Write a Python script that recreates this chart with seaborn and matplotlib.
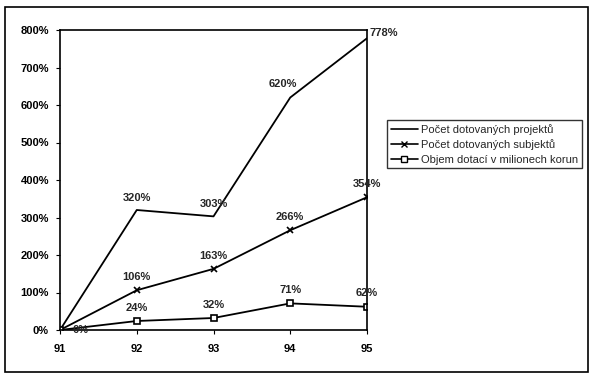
import numpy as np
import pandas as pd
import matplotlib
matplotlib.use("Agg")
import matplotlib.pyplot as plt
import seaborn as sns
from matplotlib.patches import Rectangle
from matplotlib.lines import Line2D

# --- data ---
years = [91, 92, 93, 94, 95]
projekty = [0, 320, 303, 620, 778]
subjekty = [0, 106, 163, 266, 354]
objem = [0, 24, 32, 71, 62]

names = ["Počet dotovaných projektů",
         "Počet dotovaných subjektů",
         "Objem dotací v milionech korun"]

sns.set_style("white")
plt.rcParams["font.family"] = ["Liberation Sans", "DejaVu Sans"]
plt.rcParams["font.weight"] = "bold"

fig = plt.figure(figsize=(5.94, 3.80), dpi=100)
ax = fig.add_axes([60 / 594, 1 - 330 / 380, 307 / 594, 300 / 380])

sns.lineplot(x=years, y=projekty, color="black", linewidth=1.3, ax=ax)
sns.lineplot(x=years, y=subjekty, color="black", linewidth=1.3, marker="x",
             markersize=5, markeredgecolor="black", markeredgewidth=1.2, ax=ax)
sns.lineplot(x=years, y=objem, color="black", linewidth=1.3, marker="s",
             markersize=5, markerfacecolor="white", markeredgecolor="black",
             markeredgewidth=1.2, ax=ax)

ax.set_xlim(91, 95)
ax.set_ylim(0, 800)
ax.set_xticks(years)
ax.set_xticklabels([str(y) for y in years])
ax.set_yticks(range(0, 801, 100))
ax.set_yticklabels([f"{v}%" for v in range(0, 801, 100)])
ax.set_xlabel("")
ax.set_ylabel("")
ax.tick_params(axis="both", labelsize=8, length=3, direction="out",
               colors="black", pad=5)
ax.tick_params(axis="x", bottom=True, pad=7)
ax.tick_params(axis="y", left=True)
for s in ax.spines.values():
    s.set_color("black")
    s.set_linewidth(1.2)

fs = 8
# labels for projects (the 0% at 91 coincides with the y tick label)
for x, v in zip(years, projekty):
    if x == 91:
        continue
    elif x == 95:
        ax.annotate(f"{v}%", (x, v), xytext=(2, 4), textcoords="offset points",
                    ha="left", va="center", fontsize=fs, fontweight="bold",
                    annotation_clip=False)
    elif x == 94:
        ax.annotate(f"{v}%", (x, v), xytext=(-5, 6), textcoords="offset points",
                    ha="center", va="bottom", fontsize=fs, fontweight="bold")
    else:
        ax.annotate(f"{v}%", (x, v), xytext=(0, 5), textcoords="offset points",
                    ha="center", va="bottom", fontsize=fs, fontweight="bold")
for x, v in zip(years, subjekty):
    if x == 91:
        ax.annotate("0%", (x, v), xytext=(9, 0), textcoords="offset points",
                    ha="left", va="center", fontsize=fs, fontweight="bold")
    else:
        ax.annotate(f"{v}%", (x, v), xytext=(0, 6), textcoords="offset points",
                    ha="center", va="bottom", fontsize=fs, fontweight="bold")
for x, v in zip(years, objem):
    if x == 91:
        continue
    ax.annotate(f"{v}%", (x, v), xytext=(0, 6), textcoords="offset points",
                ha="center", va="bottom", fontsize=fs, fontweight="bold")

# legend
handles = [
    Line2D([], [], color="black", lw=1.2),
    Line2D([], [], color="black", lw=1.2, marker="x", markersize=5),
    Line2D([], [], color="black", lw=1.2, marker="s", markersize=5,
           markerfacecolor="white"),
]
leg = fig.legend(handles, names, loc="upper left",
                 bbox_to_anchor=(387 / 594, 1 - 120 / 380),
                 frameon=True, fancybox=False, edgecolor="black",
                 fontsize=8, handlelength=2.4, handletextpad=0.3,
                 borderpad=0.35, labelspacing=0.4, borderaxespad=0)
leg.get_frame().set_linewidth(1.0)
for t in leg.get_texts():
    t.set_fontweight("normal")

# outer frame
fig.patches.append(Rectangle((5 / 594, 8 / 380), 583 / 594, 365 / 380,
                             transform=fig.transFigure, fill=False,
                             edgecolor="black", linewidth=1.2))

fig.savefig("out.png", dpi=100)
